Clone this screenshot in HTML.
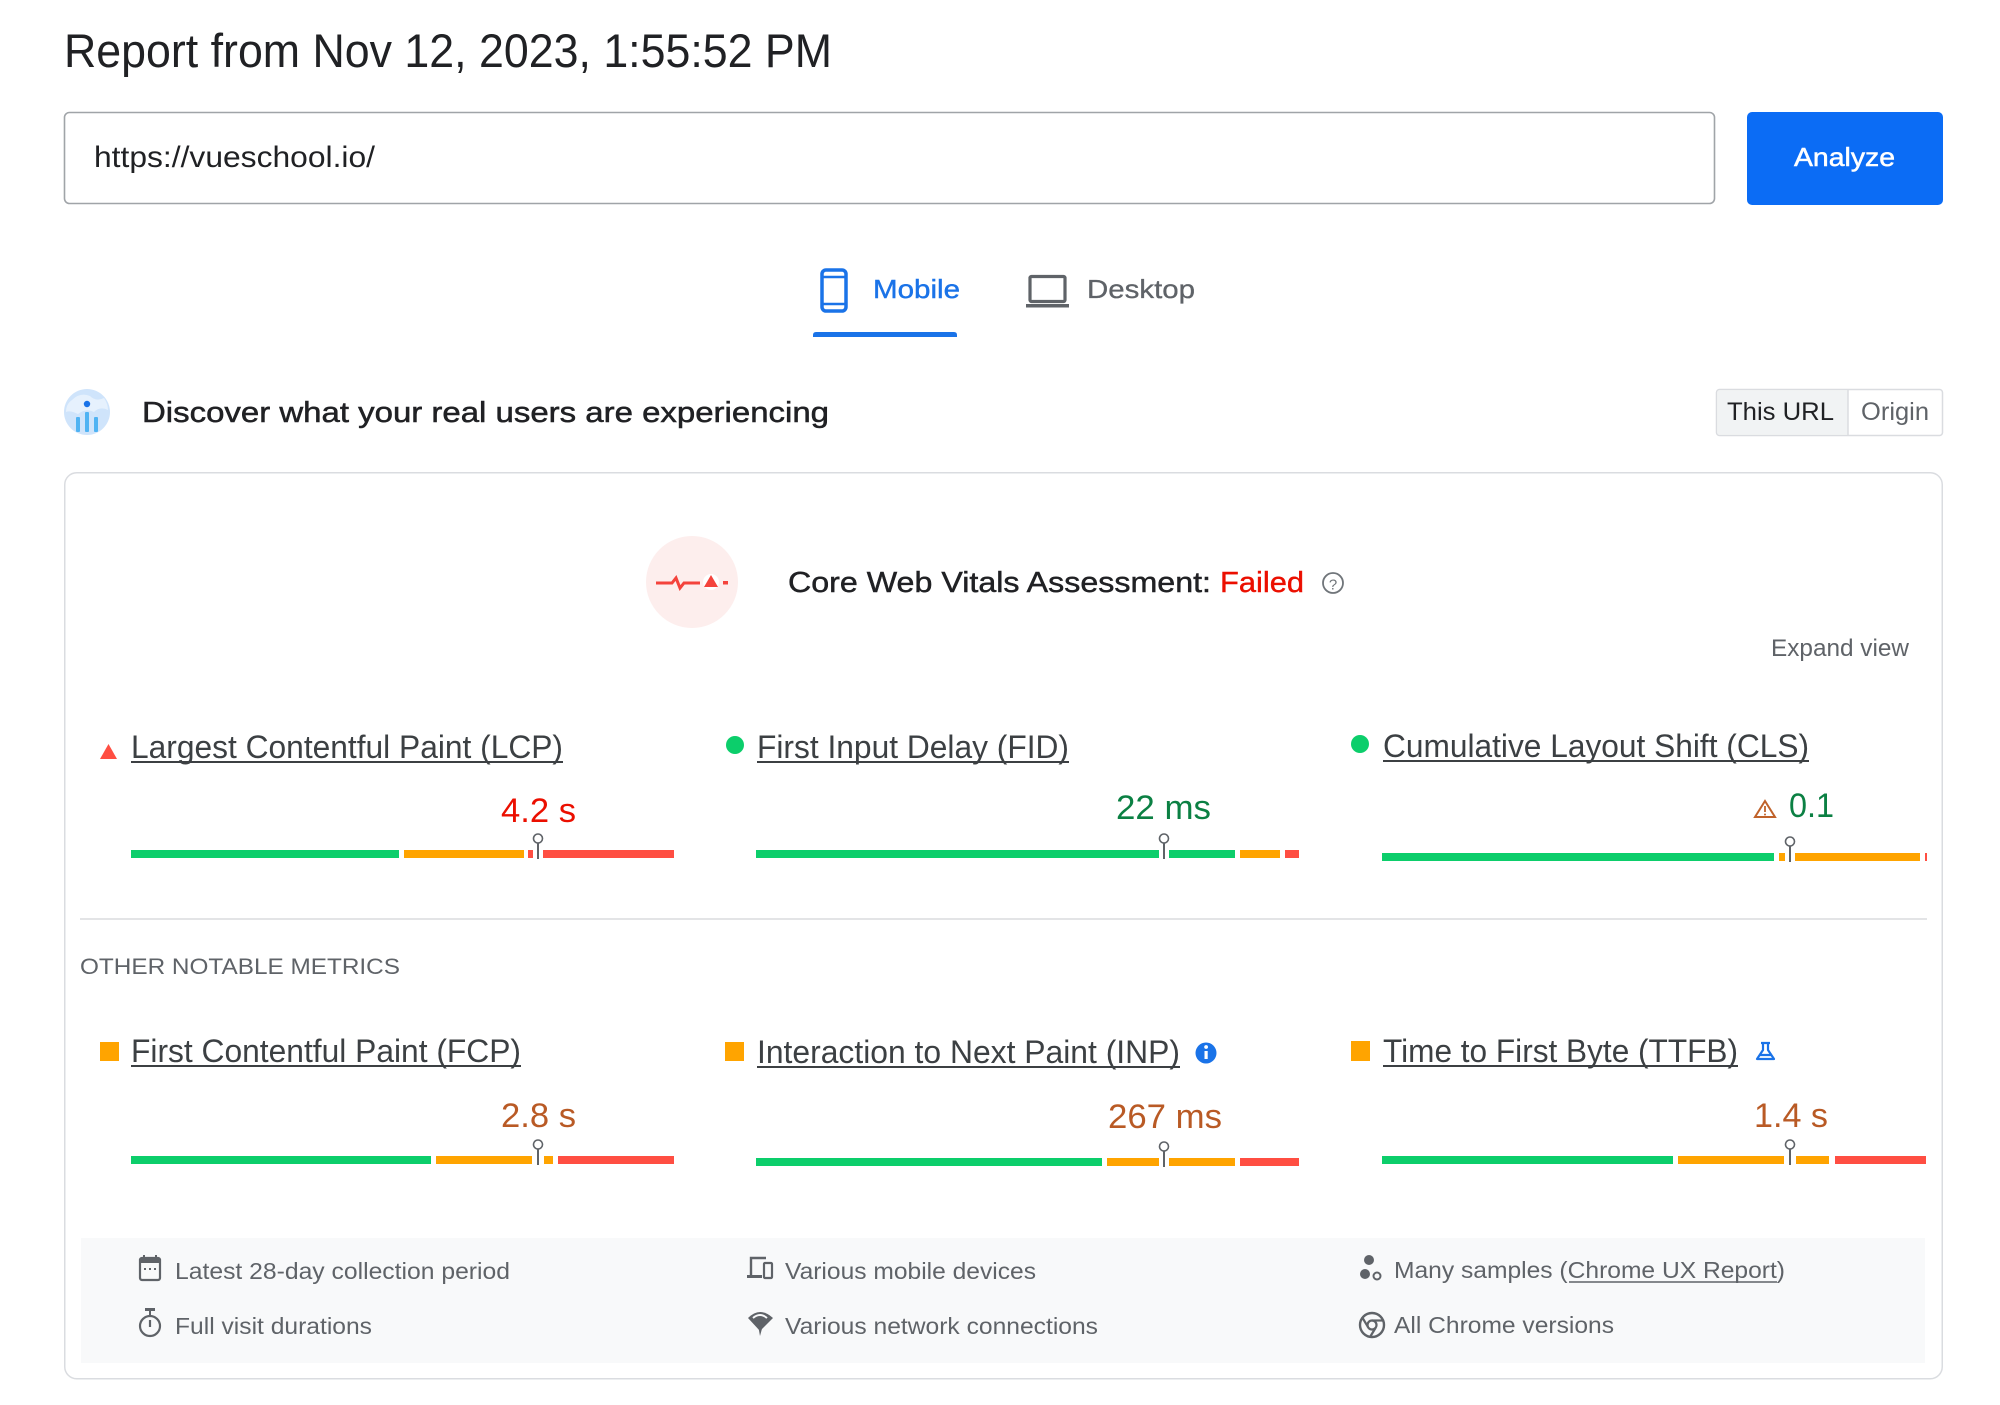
<!DOCTYPE html>
<html><head><meta charset="utf-8"><style>
html,body{margin:0;padding:0;background:#fff;}
svg{display:block;}
text{font-family:"Liberation Sans",Arial,sans-serif;}
</style></head><body>
<svg width="2000" height="1405" viewBox="0 0 2000 1405" xmlns="http://www.w3.org/2000/svg">
<rect x="0" y="0" width="2000" height="1405" fill="#fff"/>

<!-- Title -->
<text x="64" y="67" font-size="47" fill="#202124" textLength="768" lengthAdjust="spacingAndGlyphs">Report from Nov 12, 2023, 1:55:52 PM</text>

<!-- URL input -->
<rect x="64.5" y="112.5" width="1650" height="91" rx="5" fill="#fff" stroke="#a0a4a8" stroke-width="1.6"/>
<text x="94" y="167" font-size="30" fill="#202124" textLength="281" lengthAdjust="spacingAndGlyphs">https://vueschool.io/</text>

<!-- Analyze button -->
<rect x="1747" y="112" width="196" height="93" rx="5" fill="#0b6cf5"/>
<text x="1794" y="166" font-size="26" fill="#fff" stroke="#fff" stroke-width="0.5" textLength="101" lengthAdjust="spacingAndGlyphs">Analyze</text>

<!-- Tabs -->
<rect x="822" y="270" width="24" height="41" rx="4" fill="none" stroke="#1a73e8" stroke-width="3.5"/>
<line x1="822" y1="277" x2="846" y2="277" stroke="#1a73e8" stroke-width="2.5"/>
<line x1="822" y1="304" x2="846" y2="304" stroke="#1a73e8" stroke-width="2.5"/>
<text x="873" y="298" font-size="26" fill="#1a73e8" stroke="#1a73e8" stroke-width="0.4" textLength="87" lengthAdjust="spacingAndGlyphs">Mobile</text>
<path d="M813 337 L813 335 Q813 332 816 332 L954 332 Q957 332 957 335 L957 337 Z" fill="#1a73e8"/>

<rect x="1030" y="276.5" width="35" height="25" rx="1.5" fill="none" stroke="#5f6368" stroke-width="3.2"/>
<rect x="1026" y="304" width="43" height="3.5" fill="#5f6368"/>
<text x="1087" y="298" font-size="26" fill="#5f6368" stroke="#5f6368" stroke-width="0.3" textLength="108" lengthAdjust="spacingAndGlyphs">Desktop</text>

<!-- Discover row -->
<circle cx="87" cy="412" r="23" fill="#cfe4fb"/>
<path d="M72 400 Q80 392 90 396 Q96 402 104 398 Q108 404 108 410 Q100 406 94 412 Q86 408 78 414 Q70 410 66 412 Q66 404 72 400Z" fill="#e6f1fd"/>
<circle cx="87" cy="404" r="3.2" fill="#1a73e8"/>
<rect x="76" y="417" width="4" height="15" rx="1" fill="#4fb3f3"/>
<rect x="85" y="412" width="4" height="20" rx="1" fill="#4fb3f3"/>
<rect x="94" y="417" width="4" height="15" rx="1" fill="#4fb3f3"/>
<text x="142" y="422" font-size="28.5" fill="#202124" stroke="#202124" stroke-width="0.5" textLength="687" lengthAdjust="spacingAndGlyphs">Discover what your real users are experiencing</text>

<!-- This URL / Origin -->
<rect x="1716.5" y="389.5" width="226" height="46" rx="3" fill="#fff" stroke="#dadce0" stroke-width="1.5"/>
<path d="M1719.5 390.25 L1848 390.25 L1848 434.75 L1719.5 434.75 Q1717.25 434.75 1717.25 432.5 L1717.25 392.5 Q1717.25 390.25 1719.5 390.25Z" fill="#f1f3f4"/>
<line x1="1848" y1="390" x2="1848" y2="435" stroke="#dadce0" stroke-width="1.5"/>
<text x="1727" y="420" font-size="25" fill="#202124" textLength="107" lengthAdjust="spacingAndGlyphs">This URL</text>
<text x="1861" y="420" font-size="25" fill="#5f6368" textLength="68" lengthAdjust="spacingAndGlyphs">Origin</text>

<!-- Card -->
<rect x="64.75" y="472.75" width="1877.5" height="906" rx="12" fill="#fff" stroke="#dadce0" stroke-width="1.5"/>

<!-- CWV header -->
<circle cx="692" cy="582" r="46" fill="#fdeeed"/>
<polyline points="656,583 672,583 676,578 680,588 684,583 700,583" fill="none" stroke="#f4433c" stroke-width="3"/>
<circle cx="711" cy="582" r="8" fill="#fff"/>
<polygon points="711,575 718,587 704,587" fill="#f4433c"/>
<rect x="723" y="581" width="5" height="3.5" fill="#f4433c"/>
<text x="788" y="592" font-size="28.5" fill="#202124" stroke="#202124" stroke-width="0.45" textLength="423" lengthAdjust="spacingAndGlyphs">Core Web Vitals Assessment:</text>
<text x="1220" y="592" font-size="28.5" fill="#eb0f00" stroke="#eb0f00" stroke-width="0.4" textLength="84" lengthAdjust="spacingAndGlyphs">Failed</text>
<circle cx="1333" cy="583" r="10" fill="none" stroke="#70757a" stroke-width="1.8"/>
<text x="1333" y="589.5" font-size="15" fill="#70757a" text-anchor="middle">?</text>

<text x="1771" y="656" font-size="24" fill="#5f6368" textLength="138" lengthAdjust="spacingAndGlyphs">Expand view</text>

<!-- Row 1 indicators & titles -->
<polygon points="108.5,744 117,759 100,759" fill="#ff4e42"/>
<text x="131" y="758" font-size="32" fill="#3c4043" textLength="432" lengthAdjust="spacingAndGlyphs">Largest Contentful Paint (LCP)</text>
<line x1="131" y1="762" x2="563" y2="762" stroke="#3c4043" stroke-width="2"/>

<circle cx="735" cy="745" r="9" fill="#0cce6b"/>
<text x="757" y="758" font-size="32" fill="#3c4043" textLength="312" lengthAdjust="spacingAndGlyphs">First Input Delay (FID)</text>
<line x1="757" y1="762" x2="1069" y2="762" stroke="#3c4043" stroke-width="2"/>

<circle cx="1360" cy="744" r="9" fill="#0cce6b"/>
<text x="1383" y="757" font-size="32" fill="#3c4043" textLength="426" lengthAdjust="spacingAndGlyphs">Cumulative Layout Shift (CLS)</text>
<line x1="1383" y1="761" x2="1809" y2="761" stroke="#3c4043" stroke-width="2"/>

<!-- Row 1 values -->
<text x="538.5" y="822" font-size="34" fill="#eb0f00" text-anchor="middle" textLength="75" lengthAdjust="spacingAndGlyphs">4.2 s</text>
<text x="1163.5" y="819" font-size="34" fill="#0b8043" text-anchor="middle" textLength="95" lengthAdjust="spacingAndGlyphs">22 ms</text>
<polygon points="1765,801 1775,817 1755,817" fill="none" stroke="#c0622a" stroke-width="2"/>
<line x1="1765" y1="806" x2="1765" y2="812" stroke="#c0622a" stroke-width="1.8"/>
<circle cx="1765" cy="814.5" r="1" fill="#c0622a"/>
<text x="1789" y="817" font-size="34" fill="#0b8043" textLength="45" lengthAdjust="spacingAndGlyphs">0.1</text>

<!-- Row 1 bars -->
<g>
<rect x="131" y="850" width="268" height="8" fill="#0cce6b"/>
<rect x="404" y="850" width="120" height="8" fill="#ffa400"/>
<rect x="528" y="850" width="5" height="8" fill="#ff4e42"/>
<rect x="543" y="850" width="131" height="8" fill="#ff4e42"/>
<line x1="538" y1="843" x2="538" y2="859" stroke="#5f6368" stroke-width="2"/>
<circle cx="538" cy="838.5" r="4.5" fill="#fff" stroke="#5f6368" stroke-width="1.6"/>

<rect x="756" y="850" width="403" height="8" fill="#0cce6b"/>
<rect x="1169" y="850" width="66" height="8" fill="#0cce6b"/>
<rect x="1240" y="850" width="40" height="8" fill="#ffa400"/>
<rect x="1285" y="850" width="14" height="8" fill="#ff4e42"/>
<line x1="1164" y1="843" x2="1164" y2="859" stroke="#5f6368" stroke-width="2"/>
<circle cx="1164" cy="838.5" r="4.5" fill="#fff" stroke="#5f6368" stroke-width="1.6"/>

<rect x="1382" y="853" width="392" height="8" fill="#0cce6b"/>
<rect x="1779" y="853" width="6" height="8" fill="#ffa400"/>
<rect x="1795" y="853" width="125" height="8" fill="#ffa400"/>
<rect x="1925" y="853" width="2" height="8" fill="#ff4e42"/>
<line x1="1790" y1="846" x2="1790" y2="862" stroke="#5f6368" stroke-width="2"/>
<circle cx="1790" cy="841.5" r="4.5" fill="#fff" stroke="#5f6368" stroke-width="1.6"/>
</g>

<!-- Divider -->
<line x1="80" y1="919" x2="1927" y2="919" stroke="#e3e4e6" stroke-width="2"/>

<text x="80" y="974" font-size="22.5" fill="#5f6368" textLength="320" lengthAdjust="spacingAndGlyphs">OTHER NOTABLE METRICS</text>

<!-- Row 2 indicators & titles -->
<rect x="100" y="1042" width="19" height="19" fill="#ffa400"/>
<text x="131" y="1062" font-size="32" fill="#3c4043" textLength="390" lengthAdjust="spacingAndGlyphs">First Contentful Paint (FCP)</text>
<line x1="131" y1="1066" x2="521" y2="1066" stroke="#3c4043" stroke-width="2"/>

<rect x="725" y="1042" width="19" height="19" fill="#ffa400"/>
<text x="757" y="1063" font-size="32" fill="#3c4043" textLength="423" lengthAdjust="spacingAndGlyphs">Interaction to Next Paint (INP)</text>
<line x1="757" y1="1067" x2="1180" y2="1067" stroke="#3c4043" stroke-width="2"/>
<circle cx="1206" cy="1053" r="10.5" fill="#1a73e8"/>
<rect x="1204.5" y="1051" width="3.2" height="8" fill="#fff"/>
<circle cx="1206.1" cy="1047" r="1.9" fill="#fff"/>

<rect x="1351" y="1041" width="19" height="20" fill="#ffa400"/>
<text x="1383" y="1062" font-size="32" fill="#3c4043" textLength="355" lengthAdjust="spacingAndGlyphs">Time to First Byte (TTFB)</text>
<line x1="1383" y1="1066" x2="1738" y2="1066" stroke="#3c4043" stroke-width="2"/>
<path d="M1761 1043 L1770 1043 M1763 1043 L1763 1050 L1757 1059 L1774 1059 L1768 1050 L1768 1043 M1759 1055 L1772 1055" fill="none" stroke="#1a73e8" stroke-width="2.2" stroke-linejoin="round"/>

<!-- Row 2 values -->
<text x="538.5" y="1127" font-size="34" fill="#b95a25" text-anchor="middle" textLength="75" lengthAdjust="spacingAndGlyphs">2.8 s</text>
<text x="1165" y="1128" font-size="34" fill="#b95a25" text-anchor="middle" textLength="114" lengthAdjust="spacingAndGlyphs">267 ms</text>
<text x="1791" y="1127" font-size="34" fill="#b95a25" text-anchor="middle" textLength="74" lengthAdjust="spacingAndGlyphs">1.4 s</text>

<!-- Row 2 bars -->
<g>
<rect x="131" y="1156" width="300" height="8" fill="#0cce6b"/>
<rect x="436" y="1156" width="96" height="8" fill="#ffa400"/>
<rect x="544" y="1156" width="9" height="8" fill="#ffa400"/>
<rect x="558" y="1156" width="116" height="8" fill="#ff4e42"/>
<line x1="538" y1="1149" x2="538" y2="1165" stroke="#5f6368" stroke-width="2"/>
<circle cx="538" cy="1144.5" r="4.5" fill="#fff" stroke="#5f6368" stroke-width="1.6"/>

<rect x="756" y="1158" width="346" height="8" fill="#0cce6b"/>
<rect x="1107" y="1158" width="52" height="8" fill="#ffa400"/>
<rect x="1169" y="1158" width="66" height="8" fill="#ffa400"/>
<rect x="1240" y="1158" width="59" height="8" fill="#ff4e42"/>
<line x1="1164" y1="1151" x2="1164" y2="1167" stroke="#5f6368" stroke-width="2"/>
<circle cx="1164" cy="1146.5" r="4.5" fill="#fff" stroke="#5f6368" stroke-width="1.6"/>

<rect x="1382" y="1156" width="291" height="8" fill="#0cce6b"/>
<rect x="1678" y="1156" width="106" height="8" fill="#ffa400"/>
<rect x="1796" y="1156" width="33" height="8" fill="#ffa400"/>
<rect x="1835" y="1156" width="91" height="8" fill="#ff4e42"/>
<line x1="1790" y1="1149" x2="1790" y2="1165" stroke="#5f6368" stroke-width="2"/>
<circle cx="1790" cy="1144.5" r="4.5" fill="#fff" stroke="#5f6368" stroke-width="1.6"/>
</g>

<!-- Footer panel -->
<rect x="81" y="1238" width="1844" height="125" fill="#f8f9fa"/>

<!-- calendar -->
<rect x="140" y="1258" width="20" height="22" rx="2" fill="none" stroke="#5f6368" stroke-width="2.2"/>
<rect x="140" y="1258" width="20" height="5" fill="#5f6368"/>
<rect x="143" y="1255" width="2" height="4" fill="#5f6368"/>
<rect x="155" y="1255" width="2" height="4" fill="#5f6368"/>
<rect x="144" y="1268" width="2" height="2" fill="#5f6368"/>
<rect x="149" y="1268" width="2" height="2" fill="#5f6368"/>
<rect x="154" y="1268" width="2" height="2" fill="#5f6368"/>
<text x="175" y="1279" font-size="23" fill="#5f6368" textLength="335" lengthAdjust="spacingAndGlyphs">Latest 28-day collection period</text>

<!-- stopwatch -->
<circle cx="150" cy="1326" r="10" fill="none" stroke="#5f6368" stroke-width="2.2"/>
<rect x="145" y="1308" width="10" height="3" fill="#5f6368"/>
<line x1="150" y1="1311" x2="150" y2="1316" stroke="#5f6368" stroke-width="2"/>
<line x1="150" y1="1320" x2="150" y2="1327" stroke="#5f6368" stroke-width="2.2"/>
<text x="175" y="1334" font-size="23" fill="#5f6368" textLength="197" lengthAdjust="spacingAndGlyphs">Full visit durations</text>

<!-- devices -->
<path d="M751 1276 L751 1258 L766 1258" fill="none" stroke="#5f6368" stroke-width="2.4"/>
<rect x="747" y="1275" width="15" height="3" fill="#5f6368"/>
<rect x="764" y="1263" width="8" height="15" rx="1" fill="none" stroke="#5f6368" stroke-width="2.2"/>
<text x="785" y="1279" font-size="23" fill="#5f6368" textLength="251" lengthAdjust="spacingAndGlyphs">Various mobile devices</text>

<!-- network -->
<path d="M748 1318 Q760 1306 773 1318 L760 1331 Z" fill="#5f6368"/>
<path d="M753 1318 Q760 1312 767 1318" fill="none" stroke="#f8f9fa" stroke-width="2"/>
<path d="M758 1325 L763 1325 L760 1336 Z" fill="#5f6368"/>
<text x="785" y="1334" font-size="23" fill="#5f6368" textLength="313" lengthAdjust="spacingAndGlyphs">Various network connections</text>

<!-- samples dots -->
<circle cx="1369" cy="1260" r="5" fill="#5f6368"/>
<circle cx="1365" cy="1274" r="5" fill="#5f6368"/>
<circle cx="1377" cy="1276" r="3.5" fill="none" stroke="#5f6368" stroke-width="2"/>
<text x="1394" y="1278" font-size="23" fill="#5f6368" textLength="391" lengthAdjust="spacingAndGlyphs">Many samples (Chrome UX Report)</text>
<line x1="1569" y1="1282" x2="1777" y2="1282" stroke="#5f6368" stroke-width="1.5"/>

<!-- chrome -->
<circle cx="1372" cy="1325" r="12" fill="none" stroke="#5f6368" stroke-width="2.4"/>
<circle cx="1372" cy="1325" r="4.5" fill="none" stroke="#5f6368" stroke-width="2.2"/>
<line x1="1372" y1="1320.5" x2="1383" y2="1320.5" stroke="#5f6368" stroke-width="2.2"/>
<line x1="1368" y1="1327" x2="1362" y2="1317" stroke="#5f6368" stroke-width="2.2"/>
<line x1="1375.5" y1="1328" x2="1370" y2="1337" stroke="#5f6368" stroke-width="2.2"/>
<text x="1394" y="1333" font-size="23" fill="#5f6368" textLength="220" lengthAdjust="spacingAndGlyphs">All Chrome versions</text>

</svg>
</body></html>
